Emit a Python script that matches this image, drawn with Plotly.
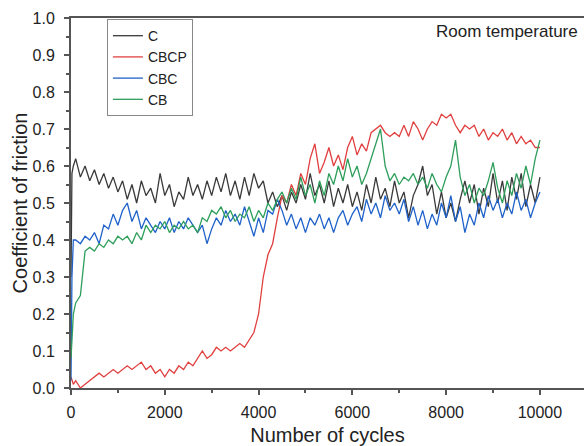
import plotly.graph_objects as go

cycles = [0, 20, 50,
          100, 200, 300, 400, 500, 600, 700, 800, 900, 1000,
          1100, 1200, 1300, 1400, 1500, 1600, 1700, 1800, 1900, 2000,
          2100, 2200, 2300, 2400, 2500, 2600, 2700, 2800, 2900, 3000,
          3100, 3200, 3300, 3400, 3500, 3600, 3700, 3800, 3900, 4000,
          4100, 4200, 4300, 4400, 4500, 4600, 4700, 4800, 4900, 5000,
          5100, 5200, 5300, 5400, 5500, 5600, 5700, 5800, 5900, 6000,
          6100, 6200, 6300, 6400, 6500, 6600, 6700, 6800, 6900, 7000,
          7100, 7200, 7300, 7400, 7500, 7600, 7700, 7800, 7900, 8000,
          8100, 8200, 8300, 8400, 8500, 8600, 8700, 8800, 8900, 9000,
          9100, 9200, 9300, 9400, 9500, 9600, 9700, 9800, 9900, 10000]

cof_C = [0.30, 0.58, 0.60,
         0.62, 0.57, 0.60, 0.56, 0.59, 0.55, 0.58, 0.54, 0.57, 0.53,
         0.56, 0.51, 0.55, 0.50, 0.56, 0.52, 0.54, 0.50, 0.58, 0.52,
         0.55, 0.49, 0.53, 0.51, 0.57, 0.52, 0.55, 0.51, 0.56, 0.52,
         0.57, 0.53, 0.58, 0.52, 0.56, 0.51, 0.57, 0.52, 0.58, 0.54,
         0.56, 0.50, 0.53, 0.49, 0.52, 0.48, 0.53, 0.50, 0.55, 0.51,
         0.58, 0.52, 0.55, 0.50, 0.56, 0.49, 0.54, 0.50, 0.55, 0.49,
         0.53, 0.48, 0.55, 0.50, 0.57, 0.51, 0.54, 0.49, 0.56, 0.50,
         0.53, 0.46, 0.52, 0.55, 0.60, 0.52, 0.55, 0.47, 0.53, 0.46,
         0.50, 0.45, 0.51, 0.56, 0.50, 0.55, 0.47, 0.54, 0.49, 0.58,
         0.50, 0.56, 0.48, 0.57, 0.51, 0.58, 0.49, 0.55, 0.50, 0.57]

cof_CBCP = [0.03, 0.02, 0.01,
            0.02, 0.00, 0.01, 0.02, 0.03, 0.04, 0.03, 0.04, 0.05, 0.04,
            0.05, 0.06, 0.05, 0.06, 0.07, 0.05, 0.06, 0.04, 0.05, 0.03,
            0.05, 0.04, 0.06, 0.05, 0.07, 0.06, 0.08, 0.10, 0.08, 0.09,
            0.11, 0.10, 0.11, 0.10, 0.11, 0.12, 0.11, 0.13, 0.15, 0.20,
            0.30, 0.36, 0.39, 0.46, 0.52, 0.50, 0.55, 0.52, 0.58, 0.55,
            0.62, 0.66, 0.58, 0.61, 0.65, 0.60, 0.63, 0.59, 0.65, 0.68,
            0.63, 0.66, 0.64, 0.69, 0.70, 0.71, 0.69, 0.68, 0.69, 0.68,
            0.71, 0.68, 0.72, 0.70, 0.67, 0.70, 0.72, 0.71, 0.74, 0.73,
            0.74, 0.71, 0.69, 0.71, 0.70, 0.71, 0.68, 0.70, 0.67, 0.69,
            0.68, 0.70, 0.67, 0.69, 0.66, 0.68, 0.66, 0.67, 0.65, 0.65]

cof_CBC = [0.02, 0.30, 0.40,
           0.40, 0.39, 0.41, 0.40, 0.42, 0.39, 0.44, 0.43, 0.47, 0.44,
           0.48, 0.50, 0.45, 0.48, 0.43, 0.46, 0.44, 0.42, 0.45, 0.43,
           0.46, 0.42, 0.45, 0.43, 0.46, 0.44, 0.42, 0.44, 0.39, 0.43,
           0.46, 0.44, 0.48, 0.45, 0.47, 0.44, 0.49, 0.45, 0.41, 0.46,
           0.42, 0.48, 0.47, 0.51, 0.48, 0.44, 0.47, 0.43, 0.46, 0.42,
           0.46, 0.44, 0.47, 0.43, 0.46, 0.42, 0.46, 0.48, 0.44, 0.47,
           0.49, 0.45, 0.51, 0.47, 0.50, 0.46, 0.52, 0.48, 0.50, 0.47,
           0.51, 0.45, 0.49, 0.44, 0.48, 0.43, 0.47, 0.44, 0.50, 0.46,
           0.52, 0.45, 0.49, 0.42, 0.47, 0.44, 0.50, 0.46, 0.52, 0.48,
           0.51, 0.46, 0.50, 0.47, 0.53, 0.48, 0.51, 0.46, 0.50, 0.53]

cof_CB = [0.08, 0.15, 0.20,
          0.23, 0.25, 0.37, 0.38, 0.37, 0.39, 0.38, 0.40, 0.39, 0.41,
          0.40, 0.41, 0.39, 0.42, 0.40, 0.44, 0.42, 0.44, 0.43, 0.45,
          0.42, 0.44, 0.43, 0.45, 0.43, 0.44, 0.42, 0.46, 0.45, 0.48,
          0.47, 0.49, 0.46, 0.48, 0.45, 0.47, 0.46, 0.49, 0.45, 0.48,
          0.46, 0.50, 0.48, 0.51, 0.53, 0.50, 0.54, 0.51, 0.57, 0.52,
          0.55, 0.50, 0.56, 0.52, 0.58, 0.55, 0.60, 0.56, 0.62, 0.57,
          0.60, 0.55, 0.58, 0.62, 0.66, 0.70, 0.60, 0.56, 0.58, 0.55,
          0.57, 0.56, 0.58, 0.55, 0.57, 0.54, 0.58, 0.55, 0.53, 0.57,
          0.60, 0.67, 0.57, 0.52, 0.55, 0.50, 0.54, 0.52, 0.56, 0.61,
          0.54, 0.50, 0.56, 0.52, 0.58, 0.54, 0.60, 0.55, 0.62, 0.67]

series_names = ["C", "CBCP", "CBC", "CB"]
series_values = [cof_C, cof_CBCP, cof_CBC, cof_CB]
series_colors = ["#3a3a3a", "#e0403f", "#1f62c9", "#2e9e5b"]

x_ticks = [0, 2000, 4000, 6000, 8000, 10000]
y_ticks = [0.0, 0.1, 0.2, 0.3, 0.4, 0.5, 0.6, 0.7, 0.8, 0.9, 1.0]

fig = go.Figure()
for name, vals, col in zip(series_names, series_values, series_colors):
    fig.add_trace(go.Scatter(x=cycles, y=vals, mode="lines", name=name,
                             line=dict(color=col, width=1.3)))

font_family = "Liberation Sans, Arial, sans-serif"

fig.update_layout(
    width=584, height=446,
    margin=dict(l=71, r=0, t=18, b=58),
    paper_bgcolor="white", plot_bgcolor="white",
    font=dict(family=font_family, color="#222", size=16),
    showlegend=True,
    legend=dict(x=0.07, y=0.997, xanchor="left", yanchor="top",
                bgcolor="white", bordercolor="#888", borderwidth=1,
                font=dict(size=14, family=font_family, color="#222"),
                tracegroupgap=0, itemwidth=30),
    annotations=[dict(text="Room temperature", x=0.992, y=0.963,
                      xref="paper", yref="paper", xanchor="right", yanchor="middle",
                      showarrow=False, font=dict(size=17, family=font_family, color="#222"))],
)

fig.update_xaxes(range=[0, 10940], tickvals=x_ticks, ticktext=[str(v) for v in x_ticks],
                 showgrid=False, zeroline=False,
                 showline=True, linecolor="#555", linewidth=2, mirror=True,
                 ticks="outside", ticklen=5, tickwidth=1.5, tickcolor="#555",
                 ticklabelstandoff=4,
                 minor=dict(dtick=1000, tick0=0, ticks="outside", ticklen=3, tickcolor="#555", showgrid=False),
                 tickfont=dict(size=16, color="#222"),
                 title=dict(text="Number of cycles", font=dict(size=20, color="#222"), standoff=10))
fig.update_yaxes(range=[0, 1.0], tickvals=y_ticks, ticktext=["%.1f" % v for v in y_ticks],
                 showgrid=False, zeroline=False,
                 showline=True, linecolor="#555", linewidth=2,
                 ticks="outside", ticklen=5, tickwidth=1.5, tickcolor="#555",
                 ticklabelstandoff=6,
                 minor=dict(dtick=0.05, tick0=0, ticks="outside", ticklen=3, tickcolor="#555", showgrid=False),
                 tickfont=dict(size=16, color="#222"),
                 title=dict(text="Coefficient of friction", font=dict(size=20, color="#222"), standoff=0))

fig.write_html("out.html")
